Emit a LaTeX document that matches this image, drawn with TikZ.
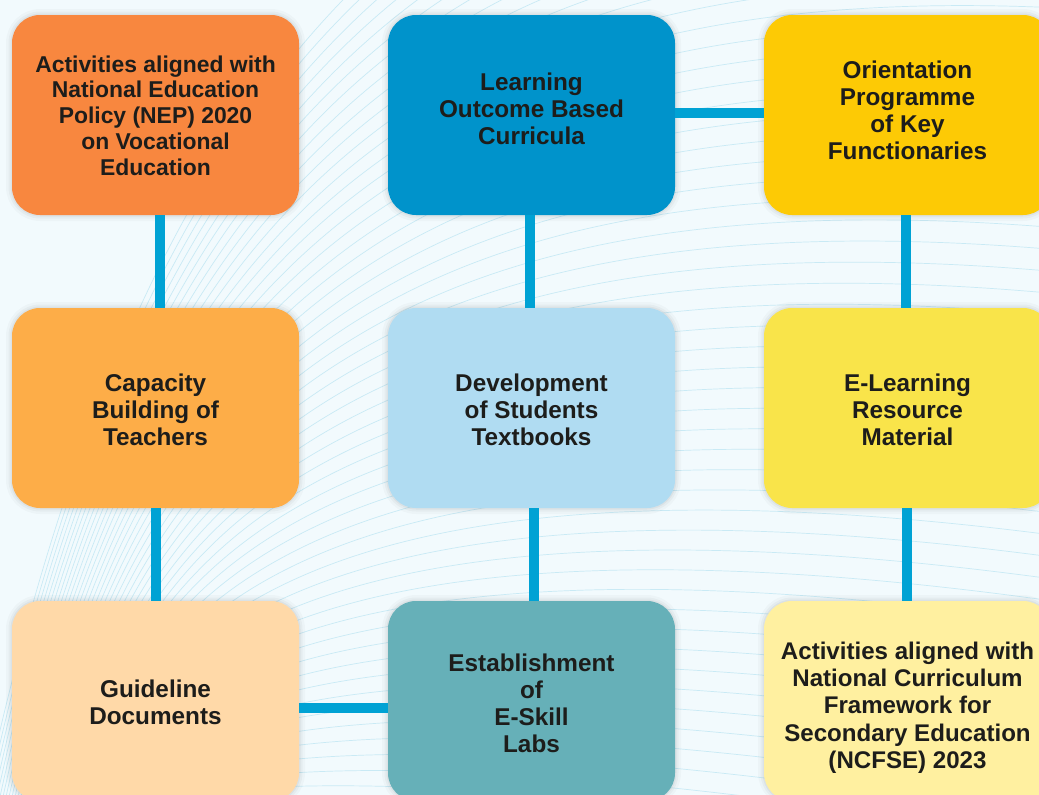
\documentclass[tikz,border=0pt]{standalone}
\usepackage{fontspec}
\setmainfont{Liberation Sans}
\definecolor{bgc}{HTML}{F2FAFD}
\definecolor{bgl}{HTML}{C9EAF5}
\definecolor{conn}{HTML}{00A2D4}
\definecolor{txtc}{HTML}{1D1D1B}
\definecolor{cA}{HTML}{F8873F}
\definecolor{cB}{HTML}{0093CB}
\definecolor{cC}{HTML}{FDCA05}
\definecolor{cD}{HTML}{FDAD48}
\definecolor{cE}{HTML}{B0DCF2}
\definecolor{cF}{HTML}{F9E44A}
\definecolor{cG}{HTML}{FFD9A8}
\definecolor{cH}{HTML}{66B0B8}
\definecolor{cI}{HTML}{FFF0A0}
\begin{document}
\begin{tikzpicture}[x=1pt,y=-1pt,
  box/.style={rectangle, rounded corners=28pt, minimum width=287pt, minimum height=200pt,
    inner sep=0pt, draw=none, fill=#1,
    preaction={draw=black, line width=12pt, opacity=0.025},
    preaction={draw=black, line width=7pt, opacity=0.03},
    preaction={draw=black, line width=3pt, opacity=0.04}},
  txt/.style={align=center, text=txtc, inner sep=0pt,
    font=\fontsize{24.3}{27}\selectfont\bfseries},
  txtsmall/.style={txt, font=\fontsize{22.9}{25.8}\selectfont\bfseries},
  link/.style={draw=conn, line width=10pt},
  bgline/.style={draw=bgl, line width=0.7pt}]
\useasboundingbox (0,0) rectangle (1039,795);
\fill[bgc] (0,0) rectangle (1039,795);
\begin{scope}
\clip (0,0) rectangle (1039,795);
\foreach \i in {0,...,52}{
  \pgfmathsetmacro\e{-260+20*\i}
  \pgfmathsetmacro\sx{-20+3*\i}
  \pgfmathsetmacro\cy{820-0.75*(820-\e)}
  \pgfmathsetmacro\ey{\e+0.1*\e+30}
  \draw[bgline] (\sx,820) .. controls (150,\cy) and (480,\e) .. (1060,\ey);
}
\end{scope}

% boxes
\node[box=cA] (a) at (155.5,115) {};
\node[box=cB] (b) at (531.5,115) {};
\node[box=cC] (c) at (907.5,115) {};
\node[box=cD] (d) at (155.5,408) {};
\node[box=cE] (e) at (531.5,408) {};
\node[box=cF] (f) at (907.5,408) {};
\node[box=cG] (g) at (155.5,701) {};
\node[box=cH] (h) at (531.5,701) {};
\node[box=cI] (i) at (907.5,701) {};

% connectors
\draw[link] ([xshift=4.5pt]a.south) -- ([xshift=4.5pt]d.north);
\draw[link] ([xshift=0.5pt]d.south) -- ([xshift=0.5pt]g.north);
\draw[link] ([xshift=-1.5pt]b.south) -- ([xshift=-1.5pt]e.north);
\draw[link] ([xshift=2.5pt]e.south) -- ([xshift=2.5pt]h.north);
\draw[link] ([xshift=-1.5pt]c.south) -- ([xshift=-1.5pt]f.north);
\draw[link] ([xshift=-0.5pt]f.south) -- ([xshift=-0.5pt]i.north);
\draw[link] ([yshift=2pt]b.east) -- ([yshift=2pt]c.west);
\draw[link] ([yshift=-7pt]g.east) -- ([yshift=-7pt]h.west);

% texts
\node[txtsmall] (at) at ([yshift=-0.5pt]a.center) {Activities aligned with\\National Education\\Policy (NEP) 2020\\on Vocational\\Education};
\node[txt] (bt) at ([yshift=6.5pt]b.center) {Learning\\Outcome Based\\Curricula};
\node[txt] (ct) at ([yshift=5pt]c.center) {Orientation\\Programme\\of Key\\Functionaries};
\node[txt] (dt) at ([yshift=-2pt]d.center) {Capacity\\Building of\\Teachers};
\node[txt] (et) at ([yshift=-2pt]e.center) {Development\\of Students\\Textbooks};
\node[txt] (ft) at ([yshift=-2pt]f.center) {E-Learning\\Resource\\Material};
\node[txt] (gt) at ([yshift=-1pt]g.center) {Guideline\\Documents};
\node[txt] (ht) at ([yshift=-2.5pt]h.center) {Establishment\\of\\E-Skill\\Labs};
\node[txt, font=\fontsize{24.1}{27.3}\selectfont\bfseries] (it) at ([yshift=-6.5pt]i.center) {Activities aligned with\\National Curriculum\\Framework for\\Secondary Education\\(NCFSE) 2023};
\end{tikzpicture}
\end{document}
